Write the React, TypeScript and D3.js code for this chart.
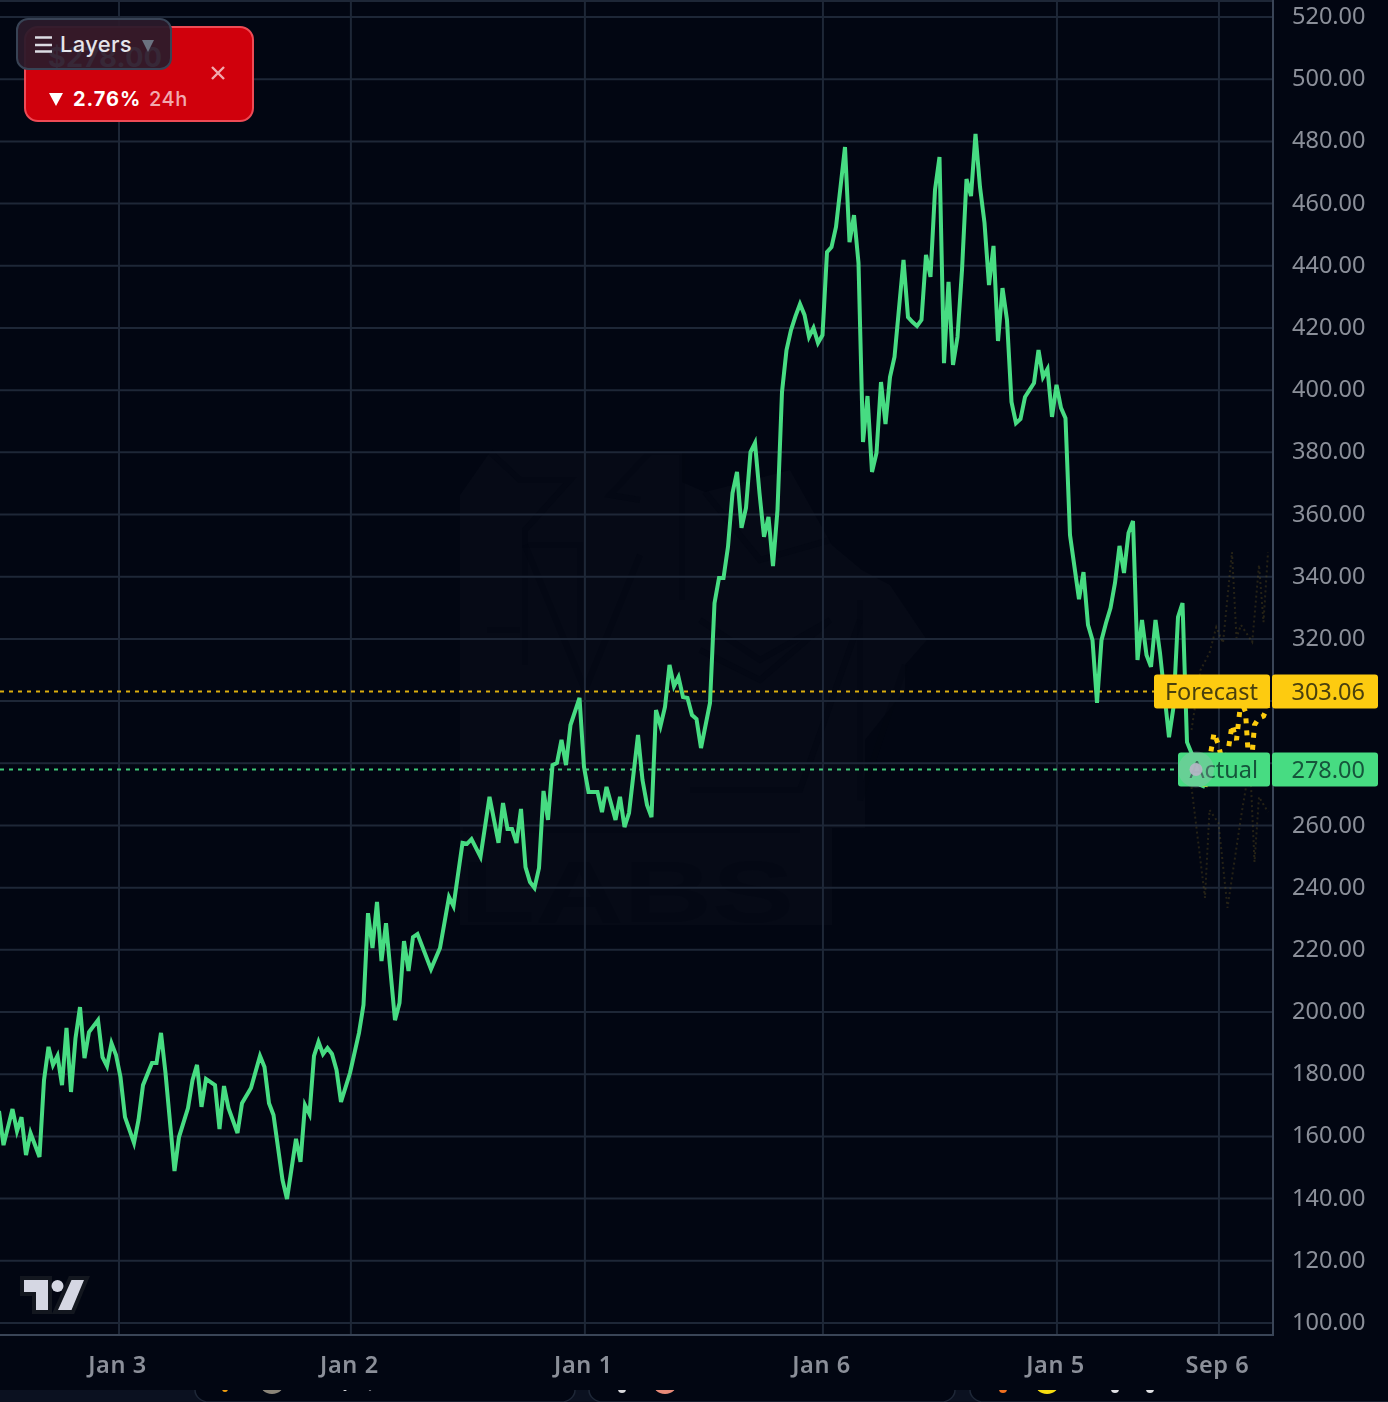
import React, { useEffect, useRef } from 'react';
import * as d3 from 'd3';

const WIDTH = 1388;
const HEIGHT = 1402;

// steps are 30-ish minute samples counted from the left edge of the chart
const actualSteps = [
  0, 1, 3, 4, 5, 6, 7, 9, 10, 11, 12, 13, 14, 15, 16, 17, 18, 19, 20, 22, 23, 24, 25, 26, 27, 28, 30, 31, 32, 34, 35, 36, 37, 39, 40,
  42, 43, 44, 45, 46, 48, 49, 50, 51, 53, 54, 56, 58, 59, 60, 61, 63, 64, 66, 67, 68, 69, 70, 71, 72, 73, 74, 75, 76, 78, 80, 81, 82,
  83, 84, 85, 86, 88, 89, 90, 91, 92, 93, 96, 98, 100, 101, 103, 104, 105, 107, 109, 111, 112, 113, 114, 115, 116, 117, 118, 119, 120,
  121, 122, 123, 124, 125, 126, 127, 129, 130, 131, 133, 134, 135, 137, 138, 139, 140, 142, 143, 144, 145, 146, 147, 148, 149, 150,
  151, 152, 153, 154, 155, 156, 158, 159, 160, 161, 162, 163, 164, 165, 166, 167, 168, 169, 170, 171, 172, 173, 174, 175, 176, 177,
  178, 179, 180, 181, 182, 183, 184, 185, 186, 188, 189, 190, 191, 192, 193, 194, 195, 196, 197, 198, 199, 201, 202, 203, 204, 205,
  206, 207, 208, 209, 210, 211, 212, 213, 214, 215, 216, 217, 218, 219, 220, 221, 222, 223, 224, 225, 226, 227, 228, 230, 231, 232,
  233, 234, 235, 236, 237, 238, 240, 241, 242, 243, 244, 245, 246, 247, 248, 249, 250, 251, 252, 253, 254, 255, 256, 257, 258, 260,
  261, 262, 263, 264, 265, 266, 267, 268,
];

const actualPrices = [
  168.2, 157.2, 168.8, 161.7, 166.2, 154, 161.1, 153.4, 178.1, 188.8, 183, 185.9, 176.5, 194.9, 174.3, 191.6, 201.6, 185.2, 193.6,
  197.4, 185.5, 182.6, 190, 186.2, 179.1, 166.2, 157.9, 165.3, 176.5, 183.6, 183.6, 193.3, 180.4, 148.9, 159.8, 169.1, 178.1, 183,
  169.5, 178.5, 176.5, 162.4, 176.2, 169.1, 161.1, 170.7, 175.6, 185.9, 182.3, 170.7, 166.9, 146, 139.9, 159.2, 151.8, 170.1, 167.2,
  185.9, 190.4, 186.5, 188.4, 186.5, 181.4, 171.1, 180.4, 193.3, 202.3, 231.8, 220.6, 235.4, 216.4, 228.6, 197.4, 202.9, 222.8, 213.2,
  224.1, 225.1, 213.8, 220.6, 237, 234.1, 254.4, 254.1, 255.6, 249.9, 269.2, 254.4, 267.2, 258.9, 258.9, 254.4, 265.3, 246.6, 241.8,
  239.9, 246.3, 271.1, 261.8, 279.4, 280.1, 287.5, 279.4, 292.3, 301, 278.8, 270.8, 270.8, 264.3, 272.4, 261.8, 269.2, 259.5, 264,
  289.1, 274.6, 266.6, 262.7, 297.1, 292, 298.1, 311.6, 304.8, 307.7, 301.3, 301, 295.5, 294.2, 284.9, 299.4, 331.5, 339.6, 339.6,
  349.6, 366.9, 373.7, 355.7, 362.1, 380.1, 383, 366.9, 352.8, 359.2, 343.4, 361.5, 399.4, 412.9, 419.3, 423.8, 427.7, 424.2, 417.1,
  420, 415.2, 417.7, 444.4, 446, 452.5, 478.2, 447.6, 456.3, 440.9, 383.3, 398.1, 373.7, 379.8, 402.6, 389.1, 404.2, 410.7, 441.9,
  423.5, 421.9, 420.6, 422.6, 443.5, 436.4, 464.4, 475, 408.7, 434.8, 408.1, 417.1, 438.6, 467.9, 462.4, 482.4, 465.3, 453.8, 433.8,
  446.4, 415.8, 432.8, 422.6, 396.2, 389.4, 390.7, 397.8, 402.3, 412.9, 404.2, 406.8, 391.4, 401.7, 394.3, 391, 353.4, 332.8, 341.5,
  324.5, 319.6, 299.4, 319.6, 325.1, 329.9, 338, 349.9, 341.2, 354.1, 357.9, 313.2, 326.1, 314.8, 311, 326.1, 315.5, 288.4, 298.1,
  327, 331.5, 286.8, 283.3, 278, 273, 272.4,
];

const forecastSteps = [268, 269, 270, 271, 272, 273, 274, 275, 276, 277, 278, 279, 280, 281, 282];
const forecastPrices = [272.4, 281, 289.7, 285.9, 279.4, 282.7, 292.3, 287.5, 300.3, 296.5, 274, 292.3, 294.6, 295.2, 298.4];

const upperSteps = [265, 267, 269, 270.5, 272, 274, 275, 276, 278.5, 280, 281, 282];
const upperPrices = [290.7, 310, 315.5, 323.8, 318.7, 347.9, 320.3, 324.5, 319, 343.8, 325.4, 347.9];

const lowerSteps = [265, 268, 269, 271, 273, 276, 278, 279, 280, 282];
const lowerPrices = [272.4, 236.7, 265, 260.8, 233.5, 262.7, 280.1, 248.2, 269.2, 264.3];

const priceTicks = [520, 500, 480, 460, 440, 420, 400, 380, 360, 340, 320, 260, 240, 220, 200, 180, 160, 140, 120, 100];
const gridPrices = [520, 500, 480, 460, 440, 420, 400, 380, 360, 340, 320, 300, 280, 260, 240, 220, 200, 180, 160, 140, 120, 100];
const timeTickSteps = [26.67, 78.2, 130.2, 183.1, 235.1, 271.1];
const timeTickLabels = ['Jan 3', 'Jan 2', 'Jan 1', 'Jan 6', 'Jan 5', 'Sep 6'];

const FORECAST_PRICE = 303.06;
const ACTUAL_PRICE = 278.0;

const AXIS_FONT = '"Noto Sans", sans-serif';
const BG = '#020612';
const GRID = '#1e2737';
const BORDER = '#3a4557';
const GREEN = '#47dc82';
const YELLOW = '#fdcb10';

const App: React.FC = () => {
  const svgRef = useRef<SVGSVGElement | null>(null);

  useEffect(() => {
    if (!svgRef.current) return;
    const svg = d3.select(svgRef.current);
    svg.selectAll('*').remove();

    const x = d3.scaleLinear().domain([0, 283]).range([-1, 1272.5]);
    const y = d3.scaleLinear().domain([100, 520]).range([1323, 17]);
    const lineGen = d3.line<[number, number]>().x(d => x(d[0])).y(d => y(d[1]));
    const zip = (a: number[], b: number[]) => a.map((v, i) => [v, b[i]] as [number, number]);

    const defs = svg.append('defs');
    defs.append('filter').attr('id', 'soft').append('feGaussianBlur').attr('stdDeviation', 0.7);
    defs.append('clipPath').attr('id', 'below-chart').append('rect')
      .attr('x', 0).attr('y', 1390).attr('width', WIDTH).attr('height', 12);

    svg.append('rect').attr('width', WIDTH).attr('height', HEIGHT).attr('fill', BG);

    // watermark, barely visible
    const wm = svg.append('g');
    wm.append('path')
      .attr('d', 'M460 495L490 452H682V482L705 492L790 470L832 545L862 570L890 585L927 640L905 665V690L865 740V828H832V925H460Z')
      .attr('fill', '#fff').attr('opacity', 0.018);
    const wmStrokes = [
      'M490 452L520 480V480H570L525 530V545H580V640',
      'M640 500L610 495L650 452H682V600',
      'M525 530V665M487 630H520',
      'M525 545L585 690L640 555',
      'M705 492L760 560L830 540',
      'M700 620L760 660L830 620L760 680L700 650',
      'M690 790H800L860 620',
      'M860 600V800L905 665',
      'M463 830H800',
    ];
    wm.selectAll('path.stroke').data(wmStrokes).enter().append('path')
      .attr('class', 'stroke').attr('d', d => d).attr('fill', 'none')
      .attr('stroke', BG).attr('stroke-width', 6).attr('opacity', 0.45);
    wm.append('text').attr('x', 460).attr('y', 922)
      .attr('font-family', '"Liberation Sans", sans-serif').attr('font-weight', 700).attr('font-size', 87)
      .attr('textLength', 334).attr('lengthAdjust', 'spacingAndGlyphs')
      .attr('fill', BG).attr('opacity', 0.4).text('LABS');

    // grid
    const grid = svg.append('g').attr('stroke', GRID).attr('stroke-width', 2);
    grid.selectAll('line.h').data(gridPrices).enter().append('line').attr('class', 'h')
      .attr('x1', 0).attr('x2', 1273).attr('y1', d => y(d)).attr('y2', d => y(d));
    grid.selectAll('line.v').data(timeTickSteps).enter().append('line').attr('class', 'v')
      .attr('x1', d => x(d)).attr('x2', d => x(d)).attr('y1', 0).attr('y2', 1335);
    svg.append('line').attr('x1', 0).attr('x2', 1273).attr('y1', 1).attr('y2', 1).attr('stroke', GRID).attr('stroke-width', 2);

    svg.append('line').attr('x1', 1273).attr('x2', 1273).attr('y1', 0).attr('y2', 1335).attr('stroke', BORDER).attr('stroke-width', 2);
    svg.append('line').attr('x1', 0).attr('x2', 1274).attr('y1', 1335).attr('y2', 1335).attr('stroke', BORDER).attr('stroke-width', 2);

    // axes
    const yAxis = d3.axisRight(y).tickValues(priceTicks).tickSize(0).tickPadding(19)
      .tickFormat(d => (d as number).toFixed(2));
    const yG = svg.append('g').attr('transform', 'translate(1273,-1)').call(yAxis);
    const xAxis = d3.axisBottom(x).tickValues(timeTickSteps).tickSize(0).tickPadding(21)
      .tickFormat((_d, i) => timeTickLabels[i]);
    const xG = svg.append('g').attr('transform', 'translate(-2,1335)').call(xAxis);
    [yG, xG].forEach(g => {
      g.select('.domain').remove();
      g.selectAll('text')
        .attr('font-family', AXIS_FONT).attr('font-size', 23.5).attr('fill', '#8b8f99').attr('filter', 'url(#soft)');
    });
    xG.selectAll('text').attr('font-weight', 600).attr('letter-spacing', 0.6);

    // price lines
    svg.append('line').attr('x1', 0).attr('x2', 1160).attr('y1', y(FORECAST_PRICE)).attr('y2', y(FORECAST_PRICE))
      .attr('stroke', '#dcae0e').attr('stroke-width', 2).attr('stroke-dasharray', '4 5');
    svg.append('line').attr('x1', 0).attr('x2', 1185).attr('y1', y(ACTUAL_PRICE)).attr('y2', y(ACTUAL_PRICE))
      .attr('stroke', '#3ec777').attr('stroke-width', 2).attr('stroke-dasharray', '4 5');

    // forecast range, very faint
    [zip(upperSteps, upperPrices), zip(lowerSteps, lowerPrices)].forEach(band => {
      svg.append('path').attr('d', lineGen(band)).attr('fill', 'none')
        .attr('stroke', '#6a5a20').attr('stroke-width', 2).attr('stroke-dasharray', '2 3').attr('opacity', 0.35);
    });

    svg.append('path').attr('d', lineGen(zip(actualSteps, actualPrices))).attr('fill', 'none')
      .attr('stroke', GREEN).attr('stroke-width', 4).attr('stroke-linejoin', 'miter').attr('filter', 'url(#soft)');

    svg.append('path').attr('d', lineGen(zip(forecastSteps, forecastPrices))).attr('fill', 'none')
      .attr('stroke', YELLOW).attr('stroke-width', 5).attr('stroke-dasharray', '5 7').attr('filter', 'url(#soft)');

    // end of line labels
    const labels = [
      { name: 'Forecast', price: FORECAST_PRICE, color: YELLOW, ink: '#4a4010', left: 1154 },
      { name: 'Actual', price: ACTUAL_PRICE, color: GREEN, ink: '#14553a', left: 1178 },
    ];
    labels.forEach(l => {
      const cy = y(l.price);
      svg.append('rect').attr('x', l.left).attr('y', cy - 17).attr('width', 1270 - l.left).attr('height', 34).attr('rx', 3).attr('fill', l.color);
      svg.append('rect').attr('x', 1272).attr('y', cy - 17).attr('width', 106).attr('height', 34).attr('rx', 3).attr('fill', l.color);
      svg.append('text').attr('x', 1258).attr('y', cy + 8.5).attr('text-anchor', 'end')
        .attr('font-family', AXIS_FONT).attr('font-size', 23.5).attr('fill', l.ink).attr('filter', 'url(#soft)').text(l.name);
      svg.append('text').attr('x', 1365).attr('y', cy + 8.5).attr('text-anchor', 'end')
        .attr('font-family', AXIS_FONT).attr('font-size', 23.5).attr('fill', l.ink).attr('filter', 'url(#soft)').text(l.price.toFixed(2));
    });

    // last point marker
    const markerX = x(266);
    svg.append('circle').attr('cx', markerX).attr('cy', y(ACTUAL_PRICE)).attr('r', 18).attr('fill', '#b4b6c4').attr('opacity', 0.3);
    svg.append('circle').attr('cx', markerX).attr('cy', y(ACTUAL_PRICE)).attr('r', 6.5).attr('fill', '#b4b6c4').attr('opacity', 0.95);

    // tradingview mark
    const tv = 'M24 1280H48V1310H36V1292H24ZM71.5 1280H84L71.5 1310H58Z';
    svg.append('path').attr('d', tv).attr('fill', '#13171f').attr('stroke', '#13171f').attr('stroke-width', 8);
    svg.append('path').attr('d', tv).attr('fill', '#d5d7e3');
    svg.append('circle').attr('cx', 57.5).attr('cy', 1286).attr('r', 6).attr('fill', '#d5d7e3');

    // price card
    const card = svg.append('g');
    card.append('rect').attr('x', 25).attr('y', 27).attr('width', 228).attr('height', 94).attr('rx', 13)
      .attr('fill', '#d0000c').attr('stroke', '#ee4a55').attr('stroke-width', 2);
    card.append('text').attr('x', 48).attr('y', 67).attr('font-family', 'Inter, sans-serif').attr('font-weight', 700).attr('font-size', 27)
      .attr('letter-spacing', 0.4).attr('fill', '#fff').text('$278.00');
    card.append('path').attr('d', 'M49 93H63L56 106Z').attr('fill', '#fff');
    card.append('text').attr('x', 73).attr('y', 106).attr('font-family', 'Inter, sans-serif').attr('font-weight', 700).attr('font-size', 20)
      .attr('letter-spacing', 1).attr('fill', '#fff').text('2.76%');
    card.append('text').attr('x', 149).attr('y', 106).attr('font-family', 'Inter, sans-serif').attr('font-weight', 500).attr('font-size', 20)
      .attr('letter-spacing', 0.5).attr('fill', '#f2a9ae').text('24h');
    card.append('path').attr('d', 'M212 67L224 79M224 67L212 79').attr('stroke', '#f2a9ae').attr('stroke-width', 2.4);

    // layers pill
    const pill = svg.append('g');
    pill.append('rect').attr('x', 17).attr('y', 19).attr('width', 154).attr('height', 50).attr('rx', 11)
      .attr('fill', '#2b1b2a').attr('fill-opacity', 0.94).attr('stroke', '#384355').attr('stroke-width', 2);
    pill.append('path').attr('d', 'M35 37.5H52M35 45H52M35 51.5H52').attr('stroke', '#dcdce2').attr('stroke-width', 2.6);
    pill.append('text').attr('x', 60).attr('y', 52).attr('font-family', 'Inter, sans-serif').attr('font-weight', 500).attr('font-size', 22)
      .attr('letter-spacing', 0.3).attr('fill', '#e4e4ea').text('Layers');
    pill.append('path').attr('d', 'M142 40H154L148 52Z').attr('fill', '#6b7280');

    // what is left of the page under the chart
    const foot = svg.append('g').attr('clip-path', 'url(#below-chart)');
    foot.append('rect').attr('x', 0).attr('y', 1390).attr('width', WIDTH).attr('height', 12).attr('fill', '#0b1120');
    const cardEdges = [[195, 575], [589, 955], [970, 1400]];
    foot.selectAll('rect.tile').data(cardEdges).enter().append('rect').attr('class', 'tile')
      .attr('x', d => d[0]).attr('y', 1378).attr('width', d => d[1] - d[0]).attr('height', 24).attr('rx', 14)
      .attr('fill', BG).attr('stroke', GRID).attr('stroke-width', 1.5);
    const crumbs = [
      { cx: 225, r: 3, fill: '#f2a010' }, { cx: 272, r: 13, fill: '#8a8478' }, { cx: 345, r: 2, fill: '#e8e8ec' },
      { cx: 370, r: 1.5, fill: '#e8e8ec' }, { cx: 622, r: 4, fill: '#d8d8dc' }, { cx: 665, r: 13, fill: '#e88a78' },
      { cx: 1003, r: 4, fill: '#f07020' }, { cx: 1047, r: 13, fill: '#f6dc10' }, { cx: 1115, r: 4, fill: '#e0e0e4' },
      { cx: 1150, r: 4, fill: '#e0e0e4' },
    ];
    foot.selectAll('circle').data(crumbs).enter().append('circle')
      .attr('cx', d => d.cx).attr('cy', d => (d.r > 5 ? 1381 : 1389)).attr('r', d => d.r).attr('fill', d => d.fill);
  }, []);

  return (
    <svg
      ref={svgRef}
      width={WIDTH}
      height={HEIGHT}
      style={{ position: 'absolute', left: 0, top: 0, display: 'block' }}
    />
  );
};

export default App;
